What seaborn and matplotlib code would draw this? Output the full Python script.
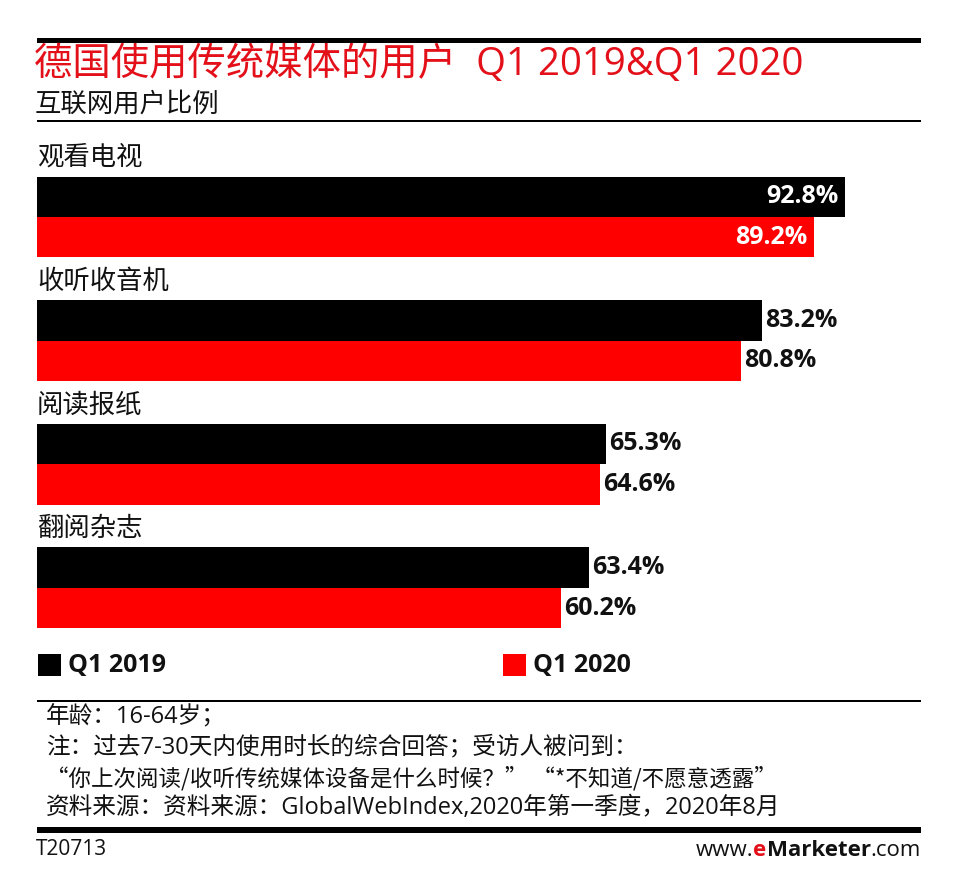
import matplotlib
matplotlib.use('Agg')
import matplotlib.pyplot as plt
from matplotlib.patches import Rectangle
import seaborn as sns
import pandas as pd

# ---------------- data ----------------
categories = ['观看电视', '收听收音机', '阅读报纸', '翻阅杂志']
series_names = ['Q1 2019', 'Q1 2020']
q1_2019 = [92.8, 83.2, 65.3, 63.4]
q1_2020 = [89.2, 80.8, 64.6, 60.2]
series_colors = ['#000000', '#ff0000']

title_text = '德国使用传统媒体的用户  Q1 2019&Q1 2020'
subtitle_text = '互联网用户比例'
note_lines = [
    '年龄：16-64岁；',
    '注：过去7-30天内使用时长的综合回答；受访人被问到：',
    '“你上次阅读/收听传统媒体设备是什么时候？” “*不知道/不愿意透露”',
    '资料来源：资料来源：GlobalWebIndex,2020年第一季度，2020年8月',
]
chart_id = 'T20713'
site_parts = ['www.', 'e', 'Marketer', '.com']

# ---------------- setup ----------------
W, H = 980, 880
sns.set_theme(style='white')
plt.rcParams['font.family'] = ['Open Sans', 'Noto Sans CJK SC', 'DejaVu Sans']

fig = plt.figure(figsize=(W / 100, H / 100), dpi=100)
fig.patch.set_facecolor('white')


def fx(px):
    return px / W


def fy(py):
    return 1 - py / H


def hrule(y_top, y_bot, x0=37, x1=921):
    fig.add_artist(Rectangle((fx(x0), fy(y_bot)), fx(x1) - fx(x0), (y_bot - y_top) / H,
                             transform=fig.transFigure, facecolor='black',
                             edgecolor='none'))


# ---------------- bars ----------------
ax_top, ax_bot = 130, 640
ax = fig.add_axes([fx(37), fy(ax_bot), fx(920) - fx(37), (ax_bot - ax_top) / H])
df = pd.DataFrame({
    'category': categories * 2,
    'value': q1_2019 + q1_2020,
    'period': [series_names[0]] * len(categories) + [series_names[1]] * len(categories),
})
sns.barplot(data=df, y='category', x='value', hue='period', order=categories,
            hue_order=series_names, palette=series_colors, orient='h',
            width=0.655, saturation=1, legend=False, errorbar=None,
            linewidth=0, ax=ax)

px_per_unit = 8.71
group_px = 123.6
first_center = 217
ax.set_xlim(0, (920 - 37) / px_per_unit)
ax.set_ylim((ax_bot - first_center) / group_px, (ax_top - first_center) / group_px)
ax.set_xticks([])
ax.set_yticks([])
ax.set_xlabel('')
ax.set_ylabel('')
for s in ax.spines.values():
    s.set_visible(False)
ax.patch.set_alpha(0)

# category labels above each group
bar_h = 0.655 / 2
for i, cat in enumerate(categories):
    ax.text(0, i - bar_h - 18 / group_px, cat, ha='left', va='center',
            fontsize=19, color='#111111')

# value labels
for container in ax.containers:
    for patch in container:
        w = patch.get_width()
        yc = patch.get_y() + patch.get_height() / 2
        label = f'{w:.1f}%'
        if w > 85:
            ax.annotate(label, xy=(w, yc), xytext=(-7, 0), textcoords='offset pixels',
                        ha='right', va='center', color='white', fontsize=18,
                        fontweight='bold')
        else:
            ax.annotate(label, xy=(w, yc), xytext=(3, 0), textcoords='offset pixels',
                        ha='left', va='center', color='#111111', fontsize=18,
                        fontweight='bold')

# ---------------- header ----------------
hrule(38, 43.5)
fig.text(fx(34), fy(65), title_text, ha='left', va='center', fontsize=27.6,
         color='#e3101a')
fig.text(fx(35), fy(105), subtitle_text, ha='left', va='center', fontsize=19,
         color='#111111')
hrule(120, 122)

# ---------------- legend ----------------
leg_x = [38, 503]
for name, col, x in zip(series_names, series_colors, leg_x):
    fig.add_artist(Rectangle((fx(x), fy(676)), 23 / W, 22 / H,
                             transform=fig.transFigure, facecolor=col,
                             edgecolor='none'))
    fig.text(fx(x + 30), fy(665), name, ha='left', va='center', fontsize=18,
             fontweight='bold', color='#111111')

# ---------------- footer ----------------
hrule(700, 702)
for k, (line, y) in enumerate(zip(note_lines, [717, 747, 778, 808])):
    if k == 2:
        fam = ['Noto Sans CJK SC', 'Open Sans', 'DejaVu Sans']
        size = 16.2
    else:
        fam = ['Open Sans', 'Noto Sans CJK SC', 'DejaVu Sans']
        size = 17
    fig.text(fx(46), fy(y), line, ha='left', va='center', fontsize=size,
             color='#111111', family=fam)
hrule(827, 833)
fig.text(fx(36), fy(849), chart_id, ha='left', va='center', fontsize=15,
         color='#111111')

# www.eMarketer.com built right-to-left
fig.canvas.draw()
renderer = fig.canvas.get_renderer()
x_right = 921
styles = {
    'www.': dict(color='#111111', fontweight='normal'),
    'e': dict(color='#e3101a', fontweight='bold'),
    'Marketer': dict(color='#111111', fontweight='bold'),
    '.com': dict(color='#111111', fontweight='normal'),
}
for part in reversed(site_parts):
    t = fig.text(fx(x_right), fy(850), part, ha='right', va='center',
                 fontsize=16, **styles[part])
    bb = t.get_window_extent(renderer)
    x_right -= bb.width

fig.savefig('out.png', dpi=100, facecolor='white')
